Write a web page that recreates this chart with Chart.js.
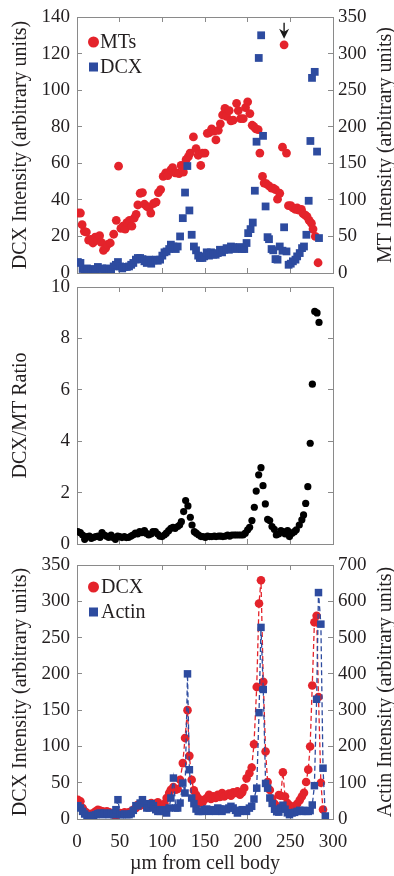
<!DOCTYPE html>
<html><head><meta charset="utf-8">
<script src="https://cdn.jsdelivr.net/npm/chart.js@4.4.0/dist/chart.umd.min.js"></script>
<style>
html,body{margin:0;padding:0;background:#fff;}
#wrap{position:relative;width:394px;height:876px;overflow:hidden;}
canvas{position:absolute;left:0;}
</style></head><body>
<div id="wrap">
<canvas id="c1" width="394" height="290" style="top:0px"></canvas>
<canvas id="c2" width="394" height="285" style="top:275px"></canvas>
<canvas id="c3" width="394" height="324" style="top:552px"></canvas>
</div>
<script>
// ---------- Panel 1: MTs (right axis) and DCX (left axis) ----------
const mtUm = [1,4,6,8.6,11,13.6,16,18.7,21.4,24,26.5,28.4,31,33.5,35.8,39,43,46,48.7,51.4,53.8,56.5,58.4,61.5,64.3,67,69.3,71.3,74,76.7,79,81.8,84.5,86.5,89.6,92.7,95.4,98,101,104,106.4,110,112,115,117,119.6,122,124.7,127.8,130.5,132.5,136.4,139.5,142,145,147,150,152.7,155,157.8,160.5,162.8,165.6,168,170.6,173.4,175.3,178.4,180.4,183,187,189,191.7,194.8,197.5,200,202.6,205.3,207.3,209.6,212.3,214.3,217.4,219.3,222,225,228,230,232.6,235,237.6,240.8,242.7,245.5,247.8,250.5,253,256,258,260,263,265,267.6,269.6,272,274.7,276.6,279.3,282.5];
const mtIntensity = [82,82,66,57,56,45,46,41,49,45,51,42,31,34,39,41,53,72,146,61,64,60,69,72,64,75,80,93,109,110,94,91,89,82,95,97,110,114,132,137,133,141,144,137,137,136,147,138,155,159,164,186,170,161,147,164,164,191,192,197,194,182,195,204,216,225,214,222,208,209,232,222,211,211,226,234,218,202,200,197,196,164,132,123,122,119,116,116,114,101,109,172,312,164,92,92,89,87,89,86,87,81,79,77,72,68,60,50,14];
const dcxUm = [1,4,6.6,9,11.7,14.4,16.8,19.5,22,24.5,27,29.6,32,35,37.8,40,43,45.6,48,50.6,53,55.7,58.4,61,63.5,66,69,71.3,74,76.7,79,81.8,84.5,87,89.6,92.3,94.7,97.4,100,102.5,105,108,110,113,115.7,118,120.8,124,126.6,129.3,131.7,134.4,137,139.5,142,144,147,149,152,154.7,157,159.7,162.5,165,167.5,170,172.6,175.3,178,180.4,183,185.8,188,191,193.6,196,198.7,200.6,203.4,206,208.4,210.4,213,215.8,218,221,223.3,225,228,230,232.6,235,237.6,240.8,242.7,245.5,248,250.5,253,256,258,261,263.7,266,268.8,271.5,273.5,275.4,278.6,281.3,283.6];
const dcxIntensityTop = [6,5.5,2.2,1.5,2.5,1.5,1.8,2.2,1.5,3.3,2.2,2.5,1.8,2.5,1.5,1.8,3.6,4.5,6,3.6,2.5,3.3,3.3,3.6,4.5,5.5,7.3,8.2,8.2,7.6,6.4,5.5,7.3,5.1,6.9,7.3,6.7,7.3,9.5,11.3,11.8,13.1,15.5,14.5,13.1,14.5,20,30,44,58.5,34.2,20.9,14.5,12.4,9.5,8.2,8.2,9.1,11.3,9.5,11.3,10,10,10.9,12.7,11.3,12.7,13.6,12.7,14.5,14.2,13.1,13.6,14.2,13.1,13.1,16.4,21.8,24,27.6,45,71.8,117.6,130,75,36.4,19.6,18.5,13.1,12.4,7.6,7.3,14.5,12.2,25,11.8,4.5,5.1,6.4,7.3,9.1,10.9,13.6,14.5,20.9,39.5,72.2,106.7,110,66.4,19.1];

// ---------- Panel 2: DCX/MT ratio ----------
const ratioUm = [1,3.9,6.6,9,11.7,14.5,16.8,19.5,22,24.6,27,29.3,32,34.4,37,40,42,45,47.7,50,52.7,55.5,57.8,60.5,63.3,65.6,68.4,71,73.4,76,79,81,84,86.7,89,91.8,94.5,96.9,99.6,102.3,104.7,107.4,110,112.5,115,118,120.3,122.3,125,127.3,130,132.8,134.8,137.5,139.8,142.6,145.3,147.6,150.4,153,155.5,158,161,163,166,168.7,171,173.8,176.5,179,181.6,184.4,186.7,189.4,192,194.5,197.2,200,202.3,205,207.8,210,212.9,215.6,218,220.7,223.4,225.8,228.5,231.2,233.6,236.3,239,241.4,244,246.8,249,252,254.7,257,260.5,263.5,265.5,268,270.5,273.3,275.8,278.6,281.3,283.6];
const ratio = [0.48,0.44,0.35,0.18,0.29,0.31,0.22,0.26,0.29,0.31,0.26,0.44,0.35,0.31,0.26,0.35,0.26,0.18,0.31,0.29,0.25,0.29,0.25,0.26,0.31,0.35,0.42,0.39,0.48,0.44,0.52,0.42,0.35,0.39,0.48,0.48,0.39,0.31,0.29,0.35,0.42,0.52,0.61,0.65,0.61,0.68,0.74,0.87,1.26,1.69,1.48,1.04,0.74,0.48,0.42,0.35,0.29,0.29,0.26,0.31,0.29,0.29,0.31,0.29,0.31,0.31,0.29,0.31,0.35,0.31,0.35,0.35,0.35,0.35,0.35,0.35,0.42,0.55,0.65,0.91,1.43,2.06,2.69,2.97,2.27,1.56,0.96,0.91,0.68,0.57,0.35,0.39,0.52,0.48,0.39,0.52,0.29,0.42,0.48,0.55,0.74,0.94,1.13,1.58,2.23,3.92,6.22,9.05,8.99,8.62];

// ---------- Panel 3: DCX (left axis) and Actin (right axis) ----------
const p3Um = [1,4,6.6,9,11.7,14.4,16.8,19.5,22,24.5,27,30,32,35,37.8,40,43,45.6,48,50.6,53,55.7,58.4,61,63.5,66,69,71.3,74,76.7,79,81.8,84.5,87,89.6,92.3,94.7,97.4,100,102.5,105,108,110,113,115.7,118,120.8,124,126.6,129.5,131.7,134.4,137,139.5,142,144,147,149,152,154.7,157,159.7,162.5,165,167.5,170,172.6,175.3,178,180.4,183,185.8,188,191,193.6,196,198.7,202,204.7,207.4,210.6,213.3,215.6,218.3,221,223.4,226,228.7,231.5,234,236.5,238.8,241.3,243.8,246.5,249,252,255,258,261,263.5,266,268.5,271,273.2,275.7,278.2,280.8,283,285.8,288.3,291];
const dcxIntensity = [26.6,24.3,15.1,10.6,8.3,6,7.3,8.3,10.6,12.8,11.5,10.6,9.2,10.6,9.2,8.3,6,4.6,8.3,8.3,7.3,9.2,8.3,9.2,10.6,12.8,15.1,19.7,18.3,22,19.7,18.3,17.4,22,19.7,21.1,22.9,19.7,18.3,21.1,28.9,35.8,40.4,44,40.4,41.3,54,77,111.5,150,87,54,39.4,33.5,28.9,22,22.9,26.6,28.9,33.5,27.5,31.2,28.9,33.5,30.3,35.8,31.2,33.5,34.9,32.1,36.7,35.8,38,33.5,36.7,42.7,56,63,71,103,182,297,329,189,93,51,40,28,21,17.4,33,32,64.5,31,22,19,15,17.4,21,26,31,36,51,68,100,184,271,280,168,50,13];
const actinIntensity = [36.7,30.3,21,13.8,7.3,4.6,9.2,10.1,12,14.7,16.5,12,16.5,14.7,12,16.5,12,25.7,53.2,12,12,13.8,12,12,14.7,23.9,36.7,36.7,44,53.2,42.2,30.3,30.3,42.2,36.7,25.7,21,21,25.7,21,16.5,30.3,57.8,112.8,30.3,30.3,44,99,71.6,400,135.8,57.8,42.2,27.5,21,21,21,25.7,27.5,21,23.9,25.7,21,30.3,27.5,21,27.5,25.7,30.3,34.9,30.3,23.9,16.5,21,25.7,23.9,21,30,35,55,85,293,528,357,98,85,57.8,43,27,20,19,30,38,27,17,12,16.5,18.3,21,23.9,21,23.9,21,21,23,38.6,91.8,330,624,537,140,8.3];

// ---------- Axis ranges and tick steps ----------
const umRange = [0, 300, 50];
const dcxTopRange = [0, 140, 20];
const mtRange = [0, 350, 50];
const ratioRange = [0, 10, 2];
const dcxRange = [0, 350, 50];
const actinRange = [0, 700, 100];
const arrowAt = { x: 242.7, y: 312 };

// ---------- styling ----------
const FONT = "'Liberation Serif','Times New Roman',serif";
const INK = '#231f20', GREY = '#8a8a8a', RED = '#e4232b', BLUE = '#2d4b9f';

function axis(pos, range, o) {
  const horiz = pos === 'top' || pos === 'bottom';
  return {
    type: 'linear', position: pos, min: range[0], max: range[1],
    ticks: { stepSize: range[2], display: !!o.labels, color: INK, font: { family: FONT, size: 19 },
             padding: o.pad || 0, maxRotation: 0, autoSkip: false },
    grid: { drawOnChartArea: false, drawTicks: true, tickLength: -5, tickColor: GREY, tickWidth: 1 },
    border: { display: true, color: GREY, width: 1 },
    title: o.title ? { display: !o.side, text: o.title, color: INK, font: { family: FONT, size: 20 },
                       padding: { top: o.tpad || 0, bottom: o.tpad || 0 } } : { display: false },
    afterFit(s) {
      if (horiz) s.height = o.size; else s.width = o.size;
      s.paddingTop = 0; s.paddingBottom = 0; s.paddingLeft = 0; s.paddingRight = 0;
    }
  };
}

const sideTitle = {
  id: 'sideTitle',
  afterDraw(chart) {
    const s = chart.scales.yR;
    if (!s || !s.options.title || !s.options.title.text) return;
    const { ctx, chartArea: a } = chart;
    ctx.save();
    ctx.translate(386, (a.top + a.bottom) / 2);
    ctx.rotate(-Math.PI / 2);
    ctx.font = '20px ' + FONT; ctx.fillStyle = INK;
    ctx.textAlign = 'center'; ctx.textBaseline = 'middle';
    ctx.fillText(s.options.title.text, 0, 0);
    ctx.restore();
  }
};

const markerLegend = {
  id: 'markerLegend',
  afterDraw(chart, args, o) {
    if (!o || !o.order) return;
    const { ctx, chartArea: a } = chart;
    ctx.save();
    ctx.font = '20px ' + FONT; ctx.textBaseline = 'middle'; ctx.textAlign = 'left';
    o.order.forEach((di, i) => {
      const ds = chart.data.datasets[di];
      const cx = a.left + o.dx, cy = a.top + o.dy + i * o.step;
      ctx.fillStyle = ds.backgroundColor;
      if (ds.pointStyle === 'rect') ctx.fillRect(cx - 4.5, cy - 4.5, 9, 9);
      else { ctx.beginPath(); ctx.arc(cx, cy, 5.5, 0, Math.PI * 2); ctx.fill(); }
      ctx.fillStyle = INK;
      ctx.fillText(ds.label, a.left + o.tx, cy + 1);
    });
    ctx.restore();
  }
};

const arrowMark = {
  id: 'arrowMark',
  afterDatasetsDraw(chart, args, o) {
    if (!o || o.x == null) return;
    const px = chart.scales.x.getPixelForValue(o.x);
    const py = chart.scales[o.axis].getPixelForValue(o.y);
    const ctx = chart.ctx, tip = py - 6, tail = py - 22;
    ctx.save();
    ctx.strokeStyle = '#1a1a1a'; ctx.fillStyle = '#1a1a1a'; ctx.lineWidth = 1.4;
    ctx.beginPath(); ctx.moveTo(px, tail); ctx.lineTo(px, tip - 6); ctx.stroke();
    ctx.beginPath(); ctx.moveTo(px, tip); ctx.lineTo(px - 5, tip - 10); ctx.lineTo(px, tip - 7);
    ctx.lineTo(px + 5, tip - 10); ctx.closePath(); ctx.fill();
    ctx.restore();
  }
};

Chart.defaults.animation = false;
Chart.defaults.font.family = FONT;

const pts = (xs, ys) => ys.map((y, i) => ({ x: xs[i], y }));
const basePlugins = { legend: { display: false }, tooltip: { enabled: false } };

// Panel 1
new Chart(document.getElementById('c1'), {
  type: 'scatter',
  data: { datasets: [
    { label: 'DCX', data: pts(dcxUm, dcxIntensityTop), yAxisID: 'y', pointStyle: 'rect', pointRadius: 5.5,
      backgroundColor: BLUE, borderColor: BLUE, pointBorderWidth: 0 },
    { label: 'MTs', data: pts(mtUm, mtIntensity), yAxisID: 'yR', pointStyle: 'circle', pointRadius: 4.4,
      backgroundColor: RED, borderColor: RED, pointBorderWidth: 0 }
  ]},
  options: {
    responsive: false,
    layout: { padding: { top: 17, bottom: 17, left: 0, right: 0 } },
    scales: {
      x: axis('bottom', umRange, { size: 0 }),
      xTop: axis('top', umRange, { size: 0 }),
      y: axis('left', dcxTopRange, { size: 77, labels: true, pad: 12, title: 'DCX Intensity (arbitrary units)', tpad: 8.5 }),
      yR: axis('right', mtRange, { size: 61, labels: true, pad: 10, title: 'MT Intensity (arbitrary units)', side: true })
    },
    plugins: Object.assign({}, basePlugins, {
      markerLegend: { order: [1, 0], dx: 16.5, dy: 25, step: 25, tx: 23 },
      arrowMark: { x: arrowAt.x, y: arrowAt.y, axis: 'yR' }
    })
  },
  plugins: [sideTitle, markerLegend, arrowMark]
});

// Panel 2
new Chart(document.getElementById('c2'), {
  type: 'scatter',
  data: { datasets: [
    { label: 'DCX/MT Ratio', data: pts(ratioUm, ratio), yAxisID: 'y', pointStyle: 'circle', pointRadius: 3.6,
      backgroundColor: '#000', borderColor: '#000', pointBorderWidth: 0 }
  ]},
  options: {
    responsive: false,
    layout: { padding: { top: 12, bottom: 16, left: 0, right: 0 } },
    scales: {
      x: axis('bottom', umRange, { size: 0 }),
      xTop: axis('top', umRange, { size: 0 }),
      y: axis('left', ratioRange, { size: 77, labels: true, pad: 12, title: 'DCX/MT Ratio', tpad: 8.5 }),
      yR: axis('right', ratioRange, { size: 61 })
    },
    plugins: basePlugins
  },
  plugins: [sideTitle]
});

// Panel 3
new Chart(document.getElementById('c3'), {
  type: 'scatter',
  data: { datasets: [
    { label: 'Actin', data: pts(p3Um, actinIntensity), yAxisID: 'yR', pointStyle: 'rect', pointRadius: 5.3,
      backgroundColor: BLUE, borderColor: BLUE, pointBorderWidth: 0, showLine: true,
      borderWidth: 1.3, borderDash: [5, 3] },
    { label: 'DCX', data: pts(p3Um, dcxIntensity), yAxisID: 'y', pointStyle: 'circle', pointRadius: 4.3,
      backgroundColor: RED, borderColor: RED, pointBorderWidth: 0, showLine: true,
      borderWidth: 1.3, borderDash: [5, 3] }
  ]},
  options: {
    responsive: false,
    layout: { padding: { top: 13, bottom: 0, left: 0, right: 0 } },
    scales: {
      x: axis('bottom', umRange, { size: 57, labels: true, pad: 17, title: 'µm from cell body', tpad: 0 }),
      xTop: axis('top', umRange, { size: 0 }),
      y: axis('left', dcxRange, { size: 77, labels: true, pad: 12, title: 'DCX Intensity (arbitrary units)', tpad: 8.5 }),
      yR: axis('right', actinRange, { size: 61, labels: true, pad: 10, title: 'Actin Intensity (arbitrary units)', side: true })
    },
    plugins: Object.assign({}, basePlugins, {
      markerLegend: { order: [1, 0], dx: 16.5, dy: 22, step: 25, tx: 24 }
    })
  },
  plugins: [sideTitle, markerLegend]
});
</script>
</body></html>
